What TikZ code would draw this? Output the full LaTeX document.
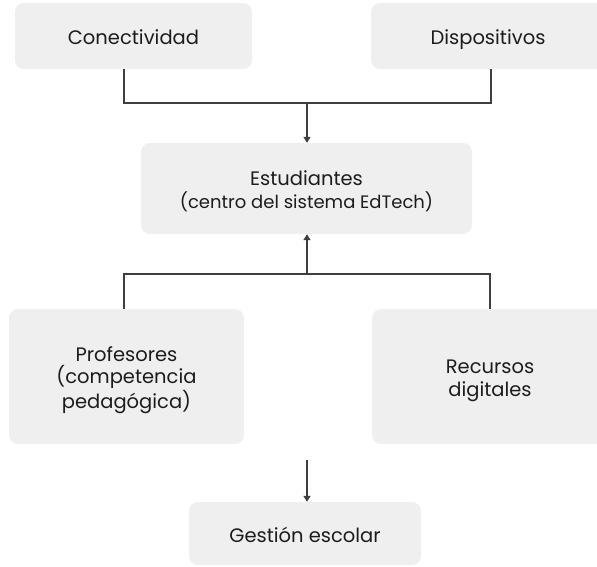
\documentclass[tikz,border=0pt]{standalone}
\usepackage{fontspec}
\setmainfont{Poppins}
\usepackage{tikz}
\usetikzlibrary{arrows.meta}
\definecolor{boxgray}{HTML}{EFEFEF}
\definecolor{wiregray}{HTML}{3F3F3F}
\definecolor{ink}{HTML}{1C1C1C}
\newcommand{\toppad}{\rule{0pt}{22pt}}

\begin{document}
\begin{tikzpicture}[x=1pt,y=-1pt,
  card/.style={fill=boxgray,rounded corners=9pt,align=center,text=ink,
    inner sep=0pt,font=\fontsize{19.5}{22.5}\selectfont,
    execute at begin node={\rule{0pt}{23pt}},execute at end node={\vphantom{p}}},
  wire/.style={wiregray,line width=2pt},
  arr/.style={wire,-{Triangle[width=7pt,length=6pt]}}]
  \useasboundingbox (0,0) rectangle (597,566);
  \clip (0,0) rectangle (597,566);
  % boxes
  \node[card,minimum width=237pt,minimum height=66pt] (conect) at (133.5,36) {Conectividad};
  \node[card,minimum width=234pt,minimum height=66pt] (dispo) at (488,36) {Dispositivos};
  \node[card,minimum width=331pt,minimum height=91pt] (estud) at (306.5,188.5)
    {\toppad Estudiantes\\{\fontsize{18}{22}\selectfont(centro del sistema EdTech)}};
  \node[card,minimum width=235pt,minimum height=135pt] (profe) at (126.5,376.5)
    {\toppad Profesores\\(competencia\\pedagógica)};
  \node[card,minimum width=236pt,minimum height=135pt] (recur) at (490,376.5) {\toppad Recursos\\digitales};
  \node[card,minimum width=232pt,minimum height=63pt] (gestion) at (305,533.5) {Gestión escolar};
  % junctions
  \coordinate (jtop) at (307,103);
  \coordinate (jmid) at (307,274);
  \coordinate (gtail) at (307,460);
  % connectors
  \draw[wire] ([xshift=-9.5pt]conect.south) |- (jtop) -| ([xshift=3pt]dispo.south);
  \draw[arr] (jtop) -- (estud.north -| jtop);
  \draw[wire] ([xshift=-2.5pt]profe.north) |- (jmid) -| (recur.north);
  \draw[arr] (jmid) -- (estud.south -| jmid);
  \draw[arr] (gtail) -- (gestion.north -| gtail);
\end{tikzpicture}
\end{document}
